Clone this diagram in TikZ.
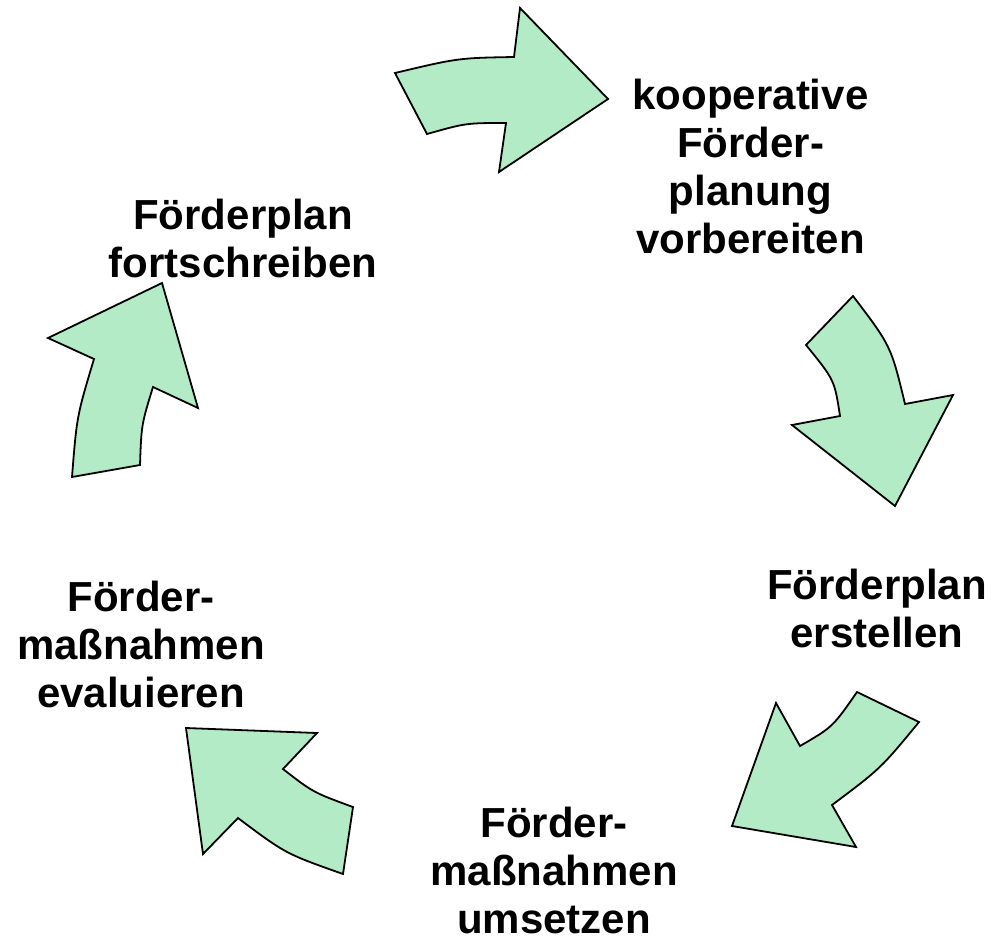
\documentclass[tikz,border=0pt]{standalone}
\usepackage{fontspec}
\setmainfont{Liberation Sans}
\definecolor{arrowfill}{RGB}{179,235,199}
\tikzset{
  cyclearrow/.style={draw=black, line width=1.8pt, fill=arrowfill, line join=miter},
  steplabel/.style={align=center, anchor=base, inner sep=0pt,
    font=\fontsize{42}{48}\selectfont\bfseries}
}
\begin{document}
\begin{tikzpicture}[x=1pt,y=-1pt]
\useasboundingbox (0,0) rectangle (992,938);
\fill[white] (0,0) rectangle (992,938);
% arrow 1 (top)
\path[cyclearrow] (395,73) .. controls (458,58) .. (514,57) -- (520,8) -- (608,99)
  -- (499,172) -- (506,123) .. controls (466,123) .. (427,134) -- cycle;
% arrow 2 (right)
\path[cyclearrow] (853,296) .. controls (891,346) .. (905,404) -- (953,395) -- (895,506)
  -- (792,425) -- (840,416) .. controls (834.5,380) .. (806,345) -- cycle;
% arrow 3 (bottom right)
\path[cyclearrow] (919,722) .. controls (880.6,768.6) .. (832,805) -- (856,847) -- (732,826)
  -- (776,703) -- (800,746) .. controls (832.7,727) .. (857,692) -- cycle;
% arrow 4 (bottom left)
\path[cyclearrow] (343,874) .. controls (285.4,853.6) .. (238,818) -- (203,854) -- (186,728)
  -- (317,733) -- (283,769) .. controls (313.1,792.4) .. (353,807) -- cycle;
% arrow 5 (left)
\path[cyclearrow] (72,477) .. controls (76.8,416.2) .. (94,359) -- (48,338) -- (162,283)
  -- (198,408) -- (153,387) .. controls (141.4,424.7) .. (140,465) -- cycle;
% labels (anchor = baseline of the last line)
\node[steplabel] (koop) at (750.5,253) {kooperative\\Förder-\\planung\\vorbereiten};
\node[steplabel] (erst) at (877,647) {Förderplan\\erstellen};
\node[steplabel] (umse) at (554,933) {Förder-\\maßnahmen\\umsetzen};
\node[steplabel] (eval) at (141,707) {Förder-\\maßnahmen\\evaluieren};
\node[steplabel] (fort) at (243,277) {Förderplan\\fortschreiben};
\end{tikzpicture}
\end{document}
